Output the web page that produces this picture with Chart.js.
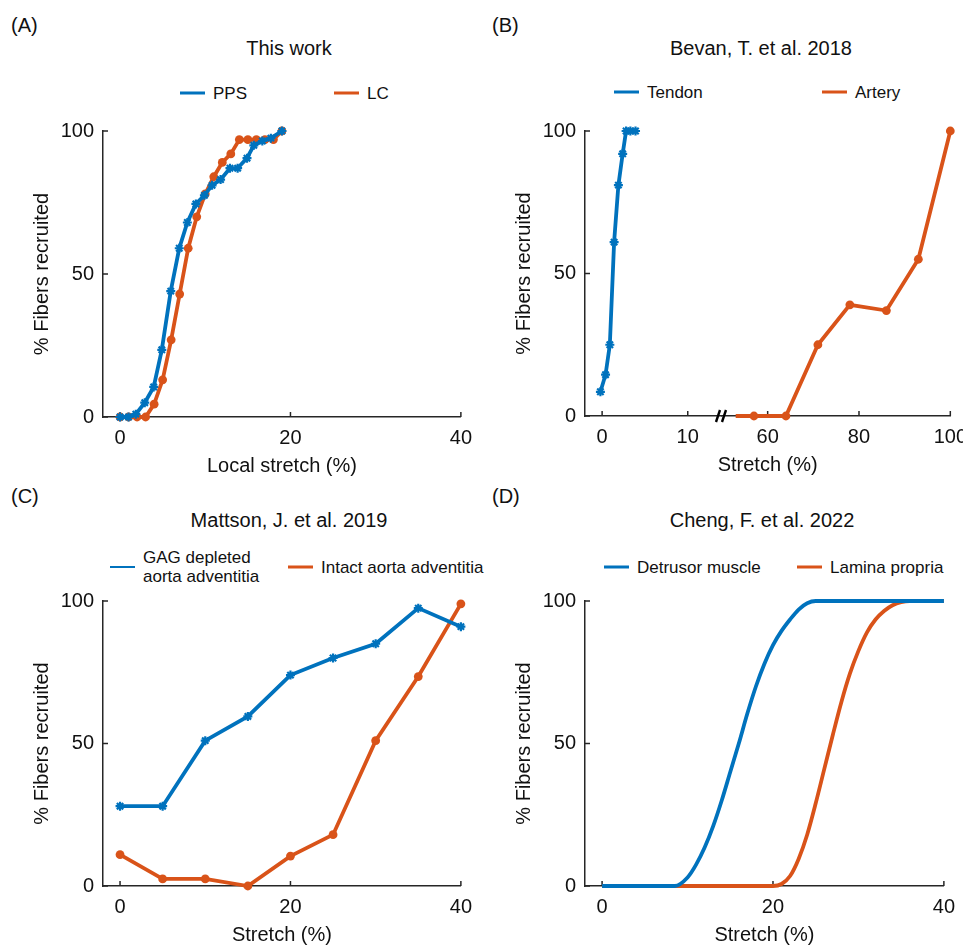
<!DOCTYPE html>
<html>
<head>
<meta charset="utf-8">
<script src="https://cdn.jsdelivr.net/npm/chart.js@4.4.1/dist/chart.umd.min.js"></script>
<style>
    body {
        margin: 0;
        width: 963px;
        height: 947px;
        overflow: hidden;
        position: relative;
        background: #fff;
        font-family: "Liberation Sans", Arial, Helvetica, sans-serif;
        color: #111;
    }
    .plot { position: absolute; }
    .plot canvas { display: block; }
    .panel-label { position: absolute; font-size: 20px; white-space: nowrap; }
    .panel-title { position: absolute; font-size: 20px; white-space: nowrap; transform: translate(-50%, -50%); }
    .legend-item {
        position: absolute;
        display: flex;
        align-items: center;
        font-size: 17px;
        line-height: 19px;
        white-space: nowrap;
        transform: translateY(-50%);
    }
    .legend-item .swatch { width: 25px; height: 2.5px; margin-right: 8px; flex: none; }
</style>
</head>
<body>

<div class="panel-label" style="left:11px; top:14px">(A)</div>
<div class="panel-label" style="left:492px; top:14px">(B)</div>
<div class="panel-label" style="left:11px; top:485px">(C)</div>
<div class="panel-label" style="left:492px; top:485px">(D)</div>

<div class="panel-title" style="left:289px; top:48px">This work</div>
<div class="panel-title" style="left:761px; top:48px">Bevan, T. et al. 2018</div>
<div class="panel-title" style="left:289px; top:520px">Mattson, J. et al. 2019</div>
<div class="panel-title" style="left:762px; top:520px">Cheng, F. et al. 2022</div>

<div id="legendA"></div>
<div id="legendB"></div>
<div id="legendC"></div>
<div id="legendD"></div>

<div class="plot" style="left:0px; top:110px"><canvas id="chartA" width="481" height="372"></canvas></div>
<div class="plot" style="left:482px; top:110px"><canvas id="chartB" width="494" height="371"></canvas></div>
<div class="plot" style="left:0px; top:580px"><canvas id="chartC" width="481" height="371"></canvas></div>
<div class="plot" style="left:482px; top:580px"><canvas id="chartD" width="482" height="371"></canvas></div>

<script>
// ---- data ----

// (A) This work
const ppsStretch = [0, 1, 1.85, 2.9, 3.95, 4.9, 5.95, 6.95, 7.9, 8.9, 9.9, 10.8, 11.8, 12.9, 13.8, 14.9, 15.7, 16.7, 17.7, 19];
const ppsRecruited = [0, 0, 1, 5, 10.5, 23.5, 44, 59, 68, 74.5, 77.5, 81, 83, 87, 87, 90.5, 95, 96.5, 97.5, 100];
const lcStretch = [0, 1, 2, 3, 4, 5, 6, 7, 8, 9, 10, 11, 12, 13, 14, 15, 16, 17, 18, 19];
const lcRecruited = [0, 0, 0, 0, 4.5, 13, 27, 43, 59, 70, 78, 84, 89, 92, 97, 97, 97, 97, 97, 100];

// (B) Bevan, T. et al. 2018 (broken x axis)
const tendonStretch = [-0.2, 0.4, 0.9, 1.4, 1.9, 2.4, 2.8, 3.3, 3.9];
const tendonRecruited = [8.5, 14.5, 25, 61, 81, 92, 100, 100, 100];
const arteryStretch = [53, 57, 64, 71, 78, 86, 93, 100];
const arteryRecruited = [0, 0, 0, 25, 39, 37, 55, 100];

// (C) Mattson, J. et al. 2019
const mattsonStretch = [0, 5, 10, 15, 20, 25, 30, 35, 40];
const gagRecruited = [28, 28, 51, 59.5, 74, 80, 85, 97.5, 91];
const intactRecruited = [11, 2.5, 2.5, 0, 10.5, 18, 51, 73.5, 99];

// (D) Cheng, F. et al. 2022
const detrusorStretch = [0, 8.5, 10, 11, 12, 13, 14, 15, 16, 17, 18, 19, 20, 21, 22, 23, 24, 25, 40];
const detrusorRecruited = [0, 0, 3, 7.5, 13.5, 21, 30, 40, 50, 60.5, 70, 78, 84.5, 89.5, 93.5, 97, 99.2, 100, 100];
const laminaStretch = [0, 20, 21, 22, 23, 24, 25, 26, 27, 28, 29, 30, 31, 32, 33, 34, 35, 36, 40];
const laminaRecruited = [0, 0, 0.7, 3.5, 9.5, 18, 29, 41, 53, 64.5, 74.5, 82.5, 89, 93.5, 96.5, 98.5, 99.6, 100, 100];

// tick labels
const yTicks = [0, 50, 100];
const xTicks = [0, 20, 40];
const tendonTicks = [0, 10];
const arteryTicks = [60, 80, 100];

// ---- styling ----
const BLUE = '#0072BD';
const ORANGE = '#D95319';
const INK = '#262626';
const FONT = '"Liberation Sans", Arial, Helvetica, sans-serif';
const axisFont = { family: FONT, size: 20, lineHeight: 1.2 };

function toPoints(xs, ys) {
    return xs.map((x, i) => ({ x: x, y: ys[i] }));
}

// line with '*' markers
function starSeries(label, xs, ys, color) {
    return {
        label: label,
        data: toPoints(xs, ys),
        borderColor: color,
        backgroundColor: color,
        borderWidth: 3.8,
        pointStyle: 'star',
        pointRadius: 4.5,
        pointBorderWidth: 2.2,
        pointBorderColor: color,
        clip: false
    };
}

// line with filled circle markers
function dotSeries(label, xs, ys, color) {
    return {
        label: label,
        data: toPoints(xs, ys),
        borderColor: color,
        backgroundColor: color,
        borderWidth: 3.8,
        pointStyle: 'circle',
        pointRadius: 4.4,
        pointBorderWidth: 0,
        pointBackgroundColor: color,
        clip: false
    };
}

// smooth line, no markers
function curveSeries(label, xs, ys, color) {
    return {
        label: label,
        data: toPoints(xs, ys),
        borderColor: color,
        backgroundColor: color,
        borderWidth: 3.8,
        pointRadius: 0,
        cubicInterpolationMode: 'monotone',
        clip: false
    };
}

function fixedTicks(values) {
    return scale => { scale.ticks = values.map(v => ({ value: v })); };
}

function xAxis(min, max, ticks, title, height) {
    return {
        type: 'linear',
        position: 'bottom',
        min: min,
        max: max,
        grid: { display: false, drawTicks: false },
        border: { display: true, color: INK, width: 1.5 },
        ticks: { color: '#111', font: axisFont, padding: 9, maxRotation: 0 },
        afterBuildTicks: fixedTicks(ticks),
        afterFit: scale => { scale.height = height; },
        title: {
            display: !!title,
            text: title || '',
            color: '#111',
            font: axisFont,
            padding: { top: 0, bottom: 4 }
        }
    };
}

function yAxis() {
    return {
        type: 'linear',
        position: 'left',
        min: 0,
        max: 100,
        grid: { display: false, drawTicks: false },
        border: { display: true, color: INK, width: 1.5 },
        ticks: { color: '#111', font: axisFont, padding: 9 },
        afterBuildTicks: fixedTicks(yTicks),
        afterFit: scale => { scale.width = 103; },
        title: {
            display: true,
            text: '% Fibers recruited',
            color: '#111',
            font: axisFont,
            padding: { top: 30, bottom: 0 }
        }
    };
}

// MATLAB style ticks pointing into the plot
const inwardTicks = {
    id: 'inwardTicks',
    beforeDatasetsDraw(chart) {
        const ctx = chart.ctx;
        ctx.save();
        ctx.strokeStyle = INK;
        ctx.lineWidth = 1.5;
        Object.values(chart.scales).forEach(scale => {
            if (!scale.options.display || !scale.options.ticks.display) return;
            scale.ticks.forEach(tick => {
                const p = scale.getPixelForValue(tick.value);
                ctx.beginPath();
                if (scale.isHorizontal()) {
                    ctx.moveTo(p, scale.top);
                    ctx.lineTo(p, scale.top - 5);
                } else {
                    ctx.moveTo(scale.right, p);
                    ctx.lineTo(scale.right + 5, p);
                }
                ctx.stroke();
            });
        });
        ctx.restore();
    }
};

// "//" mark where the x axis of panel B is broken
const axisBreak = {
    id: 'axisBreak',
    afterDraw(chart) {
        const scale = chart.scales.xL;
        if (!scale) return;
        const ctx = chart.ctx;
        const x = scale.right;
        const y = scale.top;
        ctx.save();
        ctx.strokeStyle = '#000';
        ctx.lineWidth = 2.4;
        ctx.beginPath();
        ctx.moveTo(x - 6, y + 6);
        ctx.lineTo(x - 2, y - 6);
        ctx.moveTo(x, y + 6);
        ctx.lineTo(x + 4, y - 6);
        ctx.stroke();
        ctx.restore();
    }
};

function baseOptions(scales, padding) {
    return {
        responsive: false,
        maintainAspectRatio: false,
        animation: false,
        layout: { padding: padding },
        scales: scales,
        plugins: {
            legend: { display: false },
            title: { display: false },
            tooltip: { enabled: false }
        }
    };
}

// HTML legend built from the chart's own datasets
function buildLegend(chart, containerId, lefts, centerY) {
    const box = document.getElementById(containerId);
    chart.data.datasets.forEach((ds, i) => {
        const item = document.createElement('div');
        item.className = 'legend-item';
        item.style.left = lefts[i] + 'px';
        item.style.top = centerY + 'px';
        const swatch = document.createElement('span');
        swatch.className = 'swatch';
        swatch.style.background = ds.borderColor;
        const text = document.createElement('span');
        text.innerHTML = [].concat(ds.label).join('<br>');
        item.appendChild(swatch);
        item.appendChild(text);
        box.appendChild(item);
    });
}

// ---- (A) ----
const chartA = new Chart(document.getElementById('chartA'), {
    type: 'line',
    data: {
        datasets: [
            starSeries('PPS', ppsStretch, ppsRecruited, BLUE),
            dotSeries('LC', lcStretch, lcRecruited, ORANGE)
        ]
    },
    options: baseOptions({
        x: xAxis(-2, 40, xTicks, 'Local stretch (%)', 65),
        y: yAxis()
    }, { top: 20, right: 14, left: 0, bottom: 0 }),
    plugins: [inwardTicks]
});
buildLegend(chartA, 'legendA', [180, 334], 93);

// ---- (B) ----
const tendonAxis = xAxis(-2, 14, tendonTicks, '', 34);
tendonAxis.stack = 'stretch';
tendonAxis.stackWeight = 0.375;
tendonAxis.weight = 0;
const arteryAxis = xAxis(50, 100, arteryTicks, '', 34);
arteryAxis.stack = 'stretch';
arteryAxis.stackWeight = 0.625;
arteryAxis.weight = 0;
// axis that only carries the shared title under the broken axis
const stretchTitleAxis = {
    type: 'linear',
    position: 'bottom',
    min: 0,
    max: 1,
    weight: 1,
    grid: { display: false, drawTicks: false },
    border: { display: false },
    ticks: { display: false },
    afterFit: scale => { scale.height = 31; },
    title: { display: true, text: 'Stretch (%)', color: '#111', font: axisFont, padding: { top: 0, bottom: 4 } }
};

const tendon = starSeries('Tendon', tendonStretch, tendonRecruited, BLUE);
tendon.xAxisID = 'xL';
const artery = dotSeries('Artery', arteryStretch, arteryRecruited, ORANGE);
artery.xAxisID = 'xR';
artery.pointRadius = arteryStretch.map((x, i) => i === 0 ? 0 : 4.4);

const chartB = new Chart(document.getElementById('chartB'), {
    type: 'line',
    data: { datasets: [tendon, artery] },
    options: baseOptions({
        xL: tendonAxis,
        xR: arteryAxis,
        xTitle: stretchTitleAxis,
        y: yAxis()
    }, { top: 18, right: 18, left: 0, bottom: 0 }),
    plugins: [inwardTicks, axisBreak]
});
buildLegend(chartB, 'legendB', [614, 822], 92);

// ---- (C) ----
const chartC = new Chart(document.getElementById('chartC'), {
    type: 'line',
    data: {
        datasets: [
            starSeries(['GAG depleted', 'aorta adventitia'], mattsonStretch, gagRecruited, BLUE),
            dotSeries('Intact aorta adventitia', mattsonStretch, intactRecruited, ORANGE)
        ]
    },
    options: baseOptions({
        x: xAxis(-2, 40, xTicks, 'Stretch (%)', 65),
        y: yAxis()
    }, { top: 20, right: 14, left: 0, bottom: 0 }),
    plugins: [inwardTicks]
});
buildLegend(chartC, 'legendC', [110, 288], 567);

// ---- (D) ----
const chartD = new Chart(document.getElementById('chartD'), {
    type: 'line',
    data: {
        datasets: [
            curveSeries('Detrusor muscle', detrusorStretch, detrusorRecruited, BLUE),
            curveSeries('Lamina propria', laminaStretch, laminaRecruited, ORANGE)
        ]
    },
    options: baseOptions({
        x: xAxis(-2, 40, xTicks, 'Stretch (%)', 65),
        y: yAxis()
    }, { top: 20, right: 14, left: 0, bottom: 0 }),
    plugins: [inwardTicks]
});
buildLegend(chartD, 'legendD', [604, 797], 567);
</script>
</body>
</html>
